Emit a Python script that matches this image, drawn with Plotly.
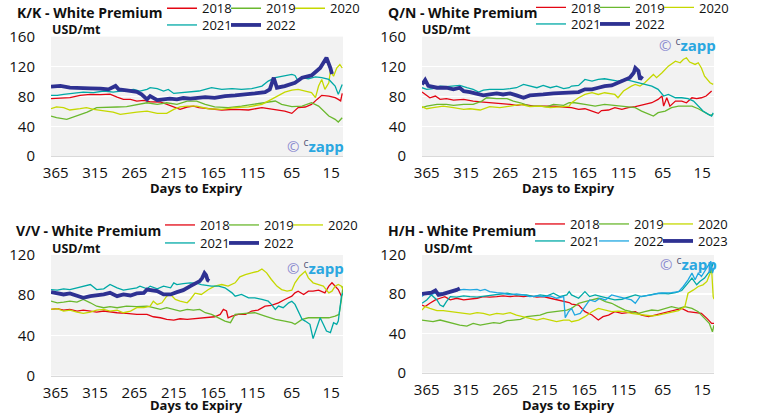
import plotly.graph_objects as go

# ---------------- data (days to expiry, USD/mt) ----------------
# K/K
kk_2018_days = [371,359,347,334,321,308,296,287,279,270,262,253,245,232,224,215,207,198,190,183,171,154,137,120,103,86,74,65,57,48,40,33,27,18,10,6,3,1]
kk_2018_vals = [77,77.4,78.4,81.4,82.7,82.5,83,79,76,76,73.7,74.7,72.8,72.5,69.3,65,62.8,65.8,67,65,63.5,61.8,62.7,61.8,65,61.8,60.4,57.3,65,65.8,69.3,76,81.4,80.5,78.4,76,74,84]
kk_2019_days = [371,364,351,338,325,313,300,287,275,262,249,236,224,211,198,186,175,163,146,129,112,95,86,78,65,52,40,31,25,18,10,6,1]
kk_2019_vals = [53.7,51.5,49.3,53.7,59,65,65,65.8,66.2,69.3,71.5,69.3,71.5,69.3,73.7,73.7,69.3,66,65,67,69.3,72.5,73.8,69.3,66.2,67,71.5,67,60.4,53.7,49.3,45.7,51.5]
kk_2020_days = [371,364,355,347,334,326,317,304,292,283,275,262,249,236,224,215,207,198,186,171,154,137,120,103,91,82,74,65,57,48,40,35,31,27,23,18,16,12,8,4,1]
kk_2020_vals = [63.5,66,65,61.8,63.5,65,62.6,60.4,59,56,57.3,59,60.4,57.3,57.3,62.7,66,67,67,63.5,62.7,65,66,69.3,76,81.4,85.8,88.5,89.4,87.2,85,78.3,93.8,102.7,89.4,98.3,114,107,118,122.7,118]
kk_2021_days = [371,363,355,342,330,317,304,292,279,266,258,249,245,236,228,222,215,203,190,183,175,167,154,141,129,116,103,95,86,78,65,61,57,52,44,35,27,18,10,6,1]
kk_2021_vals = [81.3,81.3,82.6,84,85.8,85,87.2,85.8,87.2,89.4,87.2,89.4,91.6,90.3,87.2,89.4,84,85,85.8,87.2,89.4,91.6,89.4,90.3,89.4,90.3,93.8,100.5,105,107,109.4,108,100.5,105,103.6,106,105,102.7,93.8,82.7,96]
kk_2022_days = [371,359,347,334,321,308,298,289,285,275,262,256,249,245,236,228,220,211,203,194,183,175,163,150,137,124,112,99,93,88,84,74,61,52,40,29,21,16,14]
kk_2022_vals = [93,94,91.6,90.7,90.7,90.3,89.4,94,89.4,88,86,82.7,76,80.5,75,76,77,76,77.8,77,77.8,79,78,80.5,81.4,82.3,84,85.8,89.4,105,91.6,93.8,98.3,105,108,118,131.7,118,110]

# Q/N
qn_2018_days = [371,367,361,354,348,340,331,318,306,293,280,268,259,251,242,229,217,204,191,184,181,172,164,155,147,143,134,126,117,109,100,88,79,71,66,64,60,56,49,41,35,28,22,16,10,3]
qn_2018_vals = [85.8,82.6,78.2,80.5,76,77,75,76,73.7,72.4,71.5,70.2,69.3,68,69.3,67,67,67,65.8,65,64.9,62.6,63.5,60.4,57.3,61,61.8,64.9,62.6,64.9,66.2,69.3,71.5,76,80.5,67,78.2,67,73.7,73.7,71.5,78.2,77,78.2,80.5,87.2]
qn_2019_days = [371,365,352,340,331,318,306,295,289,276,263,255,246,234,221,212,204,191,184,177,164,151,139,126,113,100,92,83,77,71,62,54,45,37,28,20,12,5,1]
qn_2019_vals = [64.8,67,69.3,69.3,68,69.3,69.3,73.7,78.2,77,77,73.7,71.5,67,67,66.2,69.3,68,71.5,71.5,69.3,67,69.3,68,66.2,65,60.4,56,53.7,58.2,60.4,65,67,67,67,63.5,58.2,54.6,56]
qn_2020_days = [371,365,357,344,331,318,310,297,285,272,259,246,234,221,208,196,184,181,172,164,155,147,139,126,122,115,109,105,100,94,88,81,77,73,66,58,49,43,39,35,31,24,20,16,12,5,1]
qn_2020_vals = [66.2,63.5,64.9,67,64.9,62.6,63.5,61.8,66.2,64.9,67,69.3,66.2,67,64.9,65.8,67,71.5,78.2,82.6,84.9,82.6,84.9,82.6,78.2,87.2,91.6,93.8,96,93.8,98.3,105,109.4,105,111.6,120.5,127.2,125,129.4,131.7,126,122.8,125,118,107,98.3,96]
qn_2021_days = [371,365,357,348,340,331,323,314,306,299,293,285,276,268,259,251,242,234,225,217,208,200,191,184,181,172,164,155,147,139,130,122,113,105,96,88,79,71,64,58,49,41,33,26,20,14,7,3,1]
qn_2021_vals = [91.6,89.4,90.3,93.8,93,93.8,94.7,91.6,89.4,85.8,88.5,89.4,89,89.4,90.3,91.6,96,93.8,91.6,94.7,91.6,93.8,90.3,91.6,93.8,94.7,102.7,100.5,102.7,103.6,101.8,100.5,102.7,100.5,98.3,96,93.8,89.4,80.5,82.6,78.2,78.2,77,73.8,67,60.4,56,53.7,58]
qn_2022_days = [371,367,363,352,340,331,323,318,310,301,293,285,276,268,259,251,242,234,225,217,204,191,181,172,164,155,147,139,130,122,113,107,102,100,96,94,91]
qn_2022_vals = [96,102,94,91.6,91.6,89.4,91.6,87,85.8,84,81.3,82.6,84,82.6,84,81.3,78.2,81.3,82.6,82.6,84,85,85.8,85.8,89.4,89.4,91.6,93.8,94.7,98.3,102.7,105,111.6,118,113.9,102.7,107]

# V/V
vv_2018_days = [371,363,355,347,338,330,321,313,304,296,287,275,262,249,241,232,224,215,207,198,190,182,175,163,156,152,148,146,141,133,124,116,108,99,91,82,74,65,61,57,50,44,38,31,23,18,14,10,6,2]
vv_2018_vals = [65.8,66.5,65.1,65.8,64.2,65.1,64.2,63.2,64.2,63.2,62.5,61.8,60.8,60.8,58.5,57.5,55.9,55.2,56.5,55.9,56.5,56.9,57.5,58.5,60.8,65.8,64.2,57.5,59.2,60.8,60.8,64.2,65.1,69.1,69.8,72.4,75.7,79,82.3,84,80.7,84,84,85,82.3,89,92.3,89,85.6,79]
vv_2019_days = [371,363,355,347,338,330,321,313,304,296,287,275,262,249,241,232,224,215,207,198,190,182,175,167,158,150,143,137,124,112,99,86,74,65,61,52,44,36,27,18,10,5,2,0]
vv_2019_vals = [74,72.4,73,74,73,75.7,72.4,69,67.5,68.5,67.5,69,68.5,69,67.5,65.8,67.5,65.8,64.2,65.8,65.1,65.8,62.5,60.8,57.5,54.2,52.6,60.8,61.8,62.5,59.2,55.9,54.2,52.6,51,55.9,57.5,57.5,57.5,57.5,59.2,60.8,75.7,89]
vv_2020_days = [371,363,355,347,338,330,321,313,304,296,287,279,270,262,253,245,241,236,230,224,219,213,207,198,194,188,180,171,163,154,146,137,131,124,116,108,103,97,91,84,78,71,65,61,55,48,44,38,31,25,18,14,10,6,2,0]
vv_2020_vals = [65.8,66.5,64.2,65.1,63.2,61.8,63.2,65.1,65.8,64.2,65.1,62.5,64.2,67.5,67.5,69,74,70.8,72.4,79,80.7,75.7,74,72.4,75.7,82,80.7,85.6,89,90.6,89,92.3,98.2,100.5,102.2,103.8,106.1,102.2,95.6,89,85.6,84,85,92.3,98.9,103.8,97.2,92.3,90.6,89,82.3,84,89,90.6,89,85.6]
vv_2021_days = [371,363,355,347,338,330,321,313,304,296,292,287,279,270,262,258,249,245,236,228,219,215,211,203,194,186,180,167,158,150,141,137,129,120,112,103,95,91,86,82,76,69,65,61,57,52,48,42,38,33,29,25,21,16,12,8,6,2,0]
vv_2021_vals = [85.6,85,86.3,85.6,87.3,89,90.6,85.6,86.3,90.6,89,87.3,85,86.3,87.3,89,86.3,89,86.3,89,87.3,92.3,90.6,91.6,92.3,92,90.6,89,89,87.3,82.3,79,80.7,77.4,77.4,75.7,74,70.8,65.8,69.1,67.5,72.4,74,70.8,64.2,55.9,54.2,51,36.7,47.6,57.5,51,44.3,42.7,52.6,51,54.2,79,82.3]
vv_2022_days = [371,363,355,347,338,330,321,313,304,296,287,279,270,262,253,249,245,236,228,219,211,203,194,190,186,182,179,176,174,172,170]
vv_2022_vals = [83,82.3,80.7,81.7,79.7,77.4,79,79.7,80.7,82.3,79,80.7,79.7,81.7,82.3,85.6,85,84,80.7,80.7,83,85,89,90.6,92.3,94,97,102,100,95,94]

# H/H
hh_2018_days = [371,367,361,354,348,342,335,327,318,310,301,293,285,276,268,259,251,242,234,225,217,208,200,191,184,181,172,164,155,147,141,134,126,117,109,100,92,83,75,66,58,49,41,33,24,16,9,3,0]
hh_2018_vals = [69,67.4,70.8,74.2,75.9,77.6,74.2,75.9,74.2,74.9,75.9,77.6,77,77.6,78.3,77.6,78.3,77.6,78.3,77,77.6,75.9,74.2,72.5,71.5,70,69,62.2,58.8,53.7,57.1,58.8,62.2,60.5,61.2,62.2,58.8,57.1,58.8,60.5,62.2,63.9,65.6,62.2,61.2,60.5,55.4,50.3,50.3]
hh_2019_days = [371,365,357,348,340,331,323,314,306,297,289,280,272,263,255,246,238,229,221,212,204,196,187,181,172,164,155,147,138,130,122,113,105,96,88,79,71,62,54,45,37,28,20,12,6,2,0]
hh_2019_vals = [53.7,53,52,53.7,52,50.3,48.5,47.5,50.3,48.5,49.6,51,50.3,53,53.7,54.4,57.1,57.8,58.8,61.2,62.2,63.2,63.9,65.6,70.8,72.5,74.2,75.9,72.5,70.8,67.4,63.9,62.2,60.5,62.2,63.9,63.2,65.6,67.4,65.6,67.4,65.6,62.2,55.4,50.3,41.7,48.5]
hh_2020_days = [371,367,361,352,344,335,327,318,310,301,293,285,276,268,259,251,242,234,225,217,208,200,191,184,181,172,164,155,147,138,130,122,113,105,96,88,79,71,62,54,45,37,33,26,20,14,9,5,3,1,0]
hh_2020_vals = [63.9,67.4,65.6,63.2,63.2,62.2,61.2,60.5,59.8,61.2,60.5,58.8,60.5,59.8,61.2,58.8,57.1,55.4,53.7,55.4,53.7,52,53.7,53.7,52,53.7,57.1,62.2,65.6,63.9,62.2,62.8,62.2,60.5,59.8,58.8,57.8,58.8,60.5,62.2,63.2,67.4,81,84.4,87.9,89.6,93,101.5,105,77.6,75]
hh_2021_days = [371,365,359,352,348,344,340,335,327,318,310,301,289,276,263,251,238,229,221,212,204,196,187,184,181,172,164,158,151,143,134,126,117,109,100,92,83,75,66,58,49,41,35,28,22,18,12,7,4,1]
hh_2021_vals = [70.8,74.2,79.3,74.2,69,67.4,72.5,77.6,77,78.3,77.6,77,78.3,79.3,81,79.3,79.3,77.6,79.3,78.3,81,77.6,79.3,82.7,79.3,75.9,82.7,77.6,79.3,77.6,75.9,74.2,74.9,77,79.3,77.6,79.3,80.3,81,80.3,81.7,83.8,89.6,96.4,89.6,93,96.4,101.5,105,111.8]
hh_2022_days = [371,367,361,352,344,335,327,318,310,301,297,291,285,276,268,259,251,242,234,225,217,208,200,191,189,185,181,177,170,164,158,151,145,138,130,122,113,105,100,94,88,79,71,62,54,45,39,33,28,24,20,16,12,7,4,2,0]
hh_2022_vals = [77.6,81,79.3,81.7,81,82.7,83.8,85,84.4,85,83.8,85,82.7,81.7,81,79.3,80.3,79.3,77.6,78.3,77.6,78.3,75.9,77.6,56,62,65.6,58.8,60.5,67.4,74.2,72.5,75.9,74.2,79.3,77.6,75.9,74.2,70.8,77.6,78.3,79.3,81,81,81.7,82.7,87.9,94.7,101.5,94.7,101.5,98.1,103.2,108.4,113.5,101.5,106.7]
hh_2023_days = [371,365,359,354,350,344,337,331,327,323]
hh_2023_vals = [80.3,81,81.7,83.8,79.3,80.3,81.7,83.8,84.4,86]

x_ticks = [365, 315, 265, 215, 165, 115, 65, 15]

# ---------------- styling ----------------
RED = "#e30613"
GREEN = "#6ab82e"
YELLOW = "#c5d800"
TEAL = "#00a9a6"
NAVY = "#2e3192"
BLUE = "#1ea7e1"
FONT = "Open Sans"

W, H = 761, 420

def px_x(v):
    return v / W

def px_y(v):
    return 1 - v / H

panels = [
    dict(title="K/K - White Premium", xd=(51, 343), yd=(36.6, 156.2), yr=160,
         series=[("2018", kk_2018_days, kk_2018_vals, RED, 1.3, 1),
                 ("2019", kk_2019_days, kk_2019_vals, GREEN, 1.3, 1),
                 ("2020", kk_2020_days, kk_2020_vals, YELLOW, 1.3, 1),
                 ("2021", kk_2021_days, kk_2021_vals, TEAL, 1.3, 2),
                 ("2022", kk_2022_days, kk_2022_vals, NAVY, 3.8, 2)],
         title_xy=(15, 12), unit_xy=(50, 30), leg_x=162, leg_y=(8.3, 25),
         xt_y=188, wm=(285, 145)),
    dict(title="Q/N - White Premium", xd=(422, 714), yd=(36.6, 156.2), yr=160,
         series=[("2018", qn_2018_days, qn_2018_vals, RED, 1.3, 1),
                 ("2019", qn_2019_days, qn_2019_vals, GREEN, 1.3, 1),
                 ("2020", qn_2020_days, qn_2020_vals, YELLOW, 1.3, 1),
                 ("2021", qn_2021_days, qn_2021_vals, TEAL, 1.3, 2),
                 ("2022", qn_2022_days, qn_2022_vals, NAVY, 3.8, 2)],
         title_xy=(386, 12), unit_xy=(420, 30), leg_x=531, leg_y=(7.5, 24),
         xt_y=188, wm=(657, 45)),
    dict(title="V/V - White Premium", xd=(51, 343), yd=(255, 375.5), yr=120,
         series=[("2018", vv_2018_days, vv_2018_vals, RED, 1.3, 1),
                 ("2019", vv_2019_days, vv_2019_vals, GREEN, 1.3, 1),
                 ("2020", vv_2020_days, vv_2020_vals, YELLOW, 1.3, 1),
                 ("2021", vv_2021_days, vv_2021_vals, TEAL, 1.3, 2),
                 ("2022", vv_2022_days, vv_2022_vals, NAVY, 3.8, 2)],
         title_xy=(14, 230), unit_xy=(50, 248), leg_x=160, leg_y=(225, 243),
         xt_y=405, wm=(285, 267)),
    dict(title="H/H - White Premium", xd=(422, 714), yd=(255, 372.7), yr=120,
         series=[("2018", hh_2018_days, hh_2018_vals, RED, 1.3, 1),
                 ("2019", hh_2019_days, hh_2019_vals, GREEN, 1.3, 1),
                 ("2020", hh_2020_days, hh_2020_vals, YELLOW, 1.3, 1),
                 ("2021", hh_2021_days, hh_2021_vals, TEAL, 1.3, 2),
                 ("2022", hh_2022_days, hh_2022_vals, BLUE, 1.3, 2),
                 ("2023", hh_2023_days, hh_2023_vals, NAVY, 3.8, 2)],
         title_xy=(386, 230), unit_xy=(422, 248), leg_x=530, leg_y=(224, 241),
         xt_y=405, wm=(658, 263)),
]

fig = go.Figure()
layout = dict(
    width=W, height=H,
    margin=dict(l=0, r=0, t=0, b=0, autoexpand=False),
    paper_bgcolor="white",
    plot_bgcolor="#f2f2f2",
    font=dict(family=FONT, color="#111111"),
    hovermode=False,
    showlegend=True,
)
annotations = []

for i, p in enumerate(panels):
    n = i + 1
    xa = "x" if n == 1 else f"x{n}"
    ya = "y" if n == 1 else f"y{n}"
    xkey = "xaxis" if n == 1 else f"xaxis{n}"
    ykey = "yaxis" if n == 1 else f"yaxis{n}"
    leg_names = [f"legend{2*i+1}" if 2*i+1 > 1 else "legend", f"legend{2*i+2}"]

    rows = {1: [], 2: []}
    for s in p["series"]:
        rows[s[5]].append(s[0])
    last_in_row = {r: names[-1] for r, names in rows.items()}

    for name, d, v, col, w, row in p["series"]:
        fig.add_trace(go.Scatter(
            x=d, y=v, mode="lines", name=name,
            line=dict(color=col, width=w),
            xaxis=xa, yaxis=ya, legend=leg_names[row - 1],
            legendwidth=40 if name == last_in_row[row] else None,
            hoverinfo="skip"))

    layout[xkey] = dict(
        domain=[px_x(p["xd"][0]), px_x(p["xd"][1])],
        anchor=ya, range=[371, 0], autorange=False,
        tickmode="array", tickvals=x_ticks,
        showgrid=False, zeroline=False,
        showline=True, linecolor="#d9d9d9", linewidth=1,
        ticks="", ticklabelstandoff=3,
        tickfont=dict(size=15, family=FONT, color="#111111"),
        fixedrange=True,
    )
    layout[ykey] = dict(
        domain=[px_y(p["yd"][1]), px_y(p["yd"][0])],
        anchor=xa, range=[0, p["yr"]], autorange=False,
        tickmode="linear", tick0=0, dtick=40,
        showgrid=True, gridcolor="white", gridwidth=1.5,
        zeroline=False, showline=False,
        ticks="", ticklabelstandoff=15,
        tickfont=dict(size=15, family=FONT, color="#111111"),
        fixedrange=True,
    )
    for r, lname in enumerate(leg_names):
        layout[lname] = dict(
            x=px_x(p["leg_x"]), xanchor="left",
            y=px_y(p["leg_y"][r]), yanchor="middle",
            orientation="h", entrywidth=19, entrywidthmode="pixels",
            itemwidth=30, bgcolor="rgba(0,0,0,0)",
            font=dict(size=13, family=FONT, color="#111111"),
            traceorder="normal", itemclick=False, itemdoubleclick=False,
        )
    annotations.append(dict(
        text="<b>" + p["title"] + "</b>", xref="paper", yref="paper",
        x=px_x(p["title_xy"][0]), y=px_y(p["title_xy"][1]),
        xanchor="left", yanchor="middle", showarrow=False,
        font=dict(size=14, family=FONT, color="#111111")))
    annotations.append(dict(
        text="<b>USD/mt</b>", xref="paper", yref="paper",
        x=px_x(p["unit_xy"][0]), y=px_y(p["unit_xy"][1]),
        xanchor="left", yanchor="middle", showarrow=False,
        font=dict(size=12.5, family=FONT, color="#111111")))
    annotations.append(dict(
        text="<b>Days to Expiry</b>", xref="paper", yref="paper",
        x=px_x((p["xd"][0] + p["xd"][1]) / 2), y=px_y(p["xt_y"]),
        xanchor="center", yanchor="middle", showarrow=False,
        font=dict(size=13, family=FONT, color="#111111")))
    annotations.append(dict(
        text='<span style="color:#8a8ad0">©</span> '
             '<span style="color:#555577"><sup>c</sup></span>'
             '<b><span style="color:#2aa7e0">zapp</span></b>',
        xref="paper", yref="paper",
        x=px_x(p["wm"][0]), y=px_y(p["wm"][1]),
        xanchor="left", yanchor="middle", showarrow=False,
        font=dict(size=15, family=FONT)))

layout["annotations"] = annotations
fig.update_layout(**layout)
fig.write_html(
    "out.html",
    config={"displayModeBar": False, "staticPlot": True},
    post_script="document.body.style.margin='0';document.body.style.padding='0';",
)
